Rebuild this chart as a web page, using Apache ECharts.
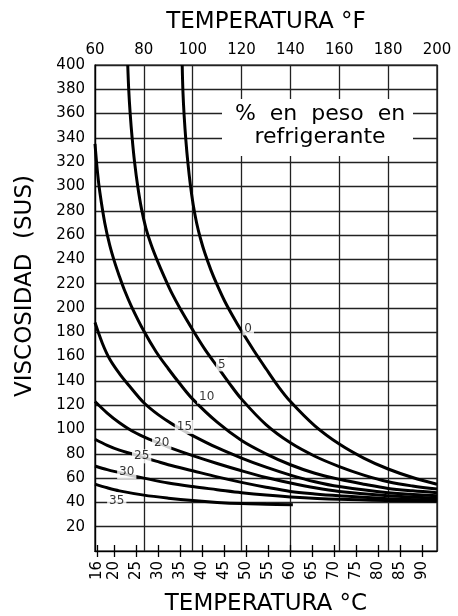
<!DOCTYPE html>
<html>
<head>
<meta charset="utf-8">
<script src="https://cdn.jsdelivr.net/npm/echarts@6/dist/echarts.min.js"></script>
<style>html,body{margin:0;padding:0;background:#fff}#chart{width:458px;height:616px}</style>
</head>
<body>
<div id="chart"></div>
<script>
// ---- data (°F, SUS) ----
const curveNames = ['0', '5', '10', '15', '20', '25', '30', '35'];
const curve0 = [[95.7,400],[96,378],[96.5,358],[97.2,338],[98,320],[99,302],[100.2,285],[101.6,270],[103.2,257],[105,245],[107.5,231],[110,219],[113,206],[116.5,193],[120,181],[125,165],[130,150],[135,135.5],[140,123],[150,103],[160,88],[170,76.5],[180,67.5],[190,60.5],[200,55]];
const curve5 = [[73.4,400],[73.8,380],[74.4,360],[75.2,340],[76.2,320],[77.5,300],[79,282],[80.8,266],[83,252],[85.5,239],[88.5,225],[91.5,212],[95,199],[100,182],[105,166],[110,152],[115,138],[120,125],[130,104],[140,89],[150,78],[160,69.5],[170,62.5],[180,57],[190,53.5],[200,51]];
const curve10 = [[60,335],[61,312],[62,295],[64,270],[66,252],[68,238],[70,226],[72,215],[75,201],[80,181],[85,164],[90,150],[95,137],[100,125],[110,106],[120,91],[130,80],[140,71],[150,64],[160,59],[170,55],[180,51.5],[190,49.5],[200,48]];
const curve15 = [[60,188],[63,171],[66,158],[70,146],[74,136],[80,122],[86,112],[92,104],[100,95],[110,85],[120,76.5],[130,69],[140,62.5],[150,57],[160,53],[180,48],[200,45.5]];
const curve20 = [[60,123],[65,113.5],[70,105.5],[75,99],[80,94],[87,88],[90,85.5],[100,78.5],[110,72],[120,66],[130,60.5],[140,56],[150,52],[160,49],[180,45.5],[200,43.5]];
const curve25 = [[60,92],[65,87],[70,83],[75,80],[79,77.5],[85,74],[90,71],[100,66],[110,61],[120,56.5],[130,52.5],[140,49],[150,47],[160,45.5],[180,43],[200,42]];
const curve30 = [[60,70],[65,67],[70,64.5],[73,63],[80,60],[90,56],[100,53],[110,50.5],[120,48],[130,46],[140,44.5],[160,42.5],[180,41.5],[200,41]];
const curve35 = [[60,55],[65,52],[70,49.5],[80,46],[90,43.5],[100,41.5],[110,40],[120,39],[130,38.5],[141,38]];
const curves = [curve0, curve5, curve10, curve15, curve20, curve25, curve30, curve35];

// label anchors (°F, SUS)
const labelAnchors = [[122.7,183.2],[111.9,153.6],[105.7,127],[96.6,102.1],[87.3,89.1],[79.1,77.9],[73,64.9],[68.9,41.1]];

const fTicksMin = 60, fTicksMax = 200, fInterval = 20;
const cTicks = [16,20,25,30,35,40,45,50,55,60,65,70,75,80,85,90];
const yMin = 0, yMax = 400, yInterval = 20;

const titleF = 'TEMPERATURA °F';
const titleC = 'TEMPERATURA °C';
const titleY = 'VISCOSIDAD  (SUS)';
const boxLines = ['%  en  peso  en', 'refrigerante'];

// ---- chart ----
const FONT = 'DejaVu Sans';
const chart = echarts.init(document.getElementById('chart'), null, {renderer: 'canvas'});
const f2c = f => (f - 32) / 1.8;

const lineSeries = curves.map((d, i) => ({
  type: 'line', name: curveNames[i], xAxisIndex: 0, yAxisIndex: 0,
  data: d, smooth: 0.35, showSymbol: false, symbol: 'none',
  lineStyle: {color: '#000', width: 3}, z: 3, silent: true
}));

const labelSeries = {
  type: 'scatter', xAxisIndex: 0, yAxisIndex: 0, z: 4, silent: true,
  symbolSize: 0,
  data: labelAnchors.map((p, i) => ({value: p, name: curveNames[i]})),
  label: {
    show: true, position: 'inside', formatter: p => p.name,
    color: '#000', fontFamily: FONT, fontSize: 12,
    backgroundColor: '#fff', padding: [1, 2]
  }
};

const axisText = {fontFamily: FONT, fontSize: 15, color: '#000'};
const nameText = {fontFamily: FONT, fontSize: 23, color: '#000'};
const tickStyle = {color: '#000', width: 1.3};

chart.setOption({
  animation: false,
  backgroundColor: '#fff',
  grid: {left: 95, right: 21, top: 65, bottom: 65, show: true, borderColor: '#000', borderWidth: 1.2,
         backgroundColor: 'transparent', containLabel: false, outerBoundsMode: 'none'},
  xAxis: [
    {
      type: 'value', position: 'top', min: fTicksMin, max: fTicksMax, interval: fInterval,
      name: titleF, nameLocation: 'middle', nameGap: 31, nameTextStyle: nameText,
      axisLine: {show: true, lineStyle: {color: '#000', width: 1.2}},
      axisTick: {show: false},
      axisLabel: Object.assign({margin: 7}, axisText),
      splitLine: {show: true, lineStyle: {color: '#222', width: 1.3}}
    },
    {
      type: 'value', position: 'bottom', min: f2c(fTicksMin), max: f2c(fTicksMax),
      name: titleC, nameLocation: 'middle', nameGap: 42, nameMoveOverlap: false, nameTextStyle: nameText,
      axisLine: {show: true, onZero: false, lineStyle: {color: '#000', width: 1.2}},
      axisTick: {show: true, customValues: cTicks, length: 6, lineStyle: tickStyle},
      axisLabel: Object.assign({customValues: cTicks, rotate: 90, margin: 10}, axisText),
      splitLine: {show: false}
    },
    {
      type: 'value', position: 'bottom', min: f2c(fTicksMin), max: f2c(fTicksMax),
      axisLine: {show: false, onZero: false},
      axisTick: {show: true, inside: true, customValues: cTicks, length: 6, lineStyle: tickStyle},
      axisLabel: {show: false},
      splitLine: {show: false}
    }
  ],
  yAxis: {
    type: 'value', min: yMin, max: yMax, interval: yInterval,
    axisLine: {show: true, lineStyle: {color: '#000', width: 1.2}},
    axisTick: {show: false},
    axisLabel: Object.assign({margin: 10, formatter: v => (v === 0 ? '' : String(v))}, axisText),
    splitLine: {show: true, lineStyle: {color: '#222', width: 1.3}}
  },
  graphic: [
    {type: 'text', x: 25, y: 286, rotation: Math.PI / 2, z: 10,
     style: {text: titleY, fontFamily: FONT, fontSize: 23, fill: '#000', align: 'center', verticalAlign: 'middle'}},
    {type: 'rect', shape: {x: 222, y: 99, width: 191, height: 57}, style: {fill: '#fff'}, z: 5},
    {type: 'text', x: 320, y: 114, z: 6,
     style: {text: boxLines[0], fontFamily: FONT, fontSize: 22, fill: '#000', align: 'center', verticalAlign: 'middle'}},
    {type: 'text', x: 320, y: 137, z: 6,
     style: {text: boxLines[1], fontFamily: FONT, fontSize: 22, fill: '#000', align: 'center', verticalAlign: 'middle'}}
  ],
  series: lineSeries.concat([labelSeries])
});
</script>
</body>
</html>
